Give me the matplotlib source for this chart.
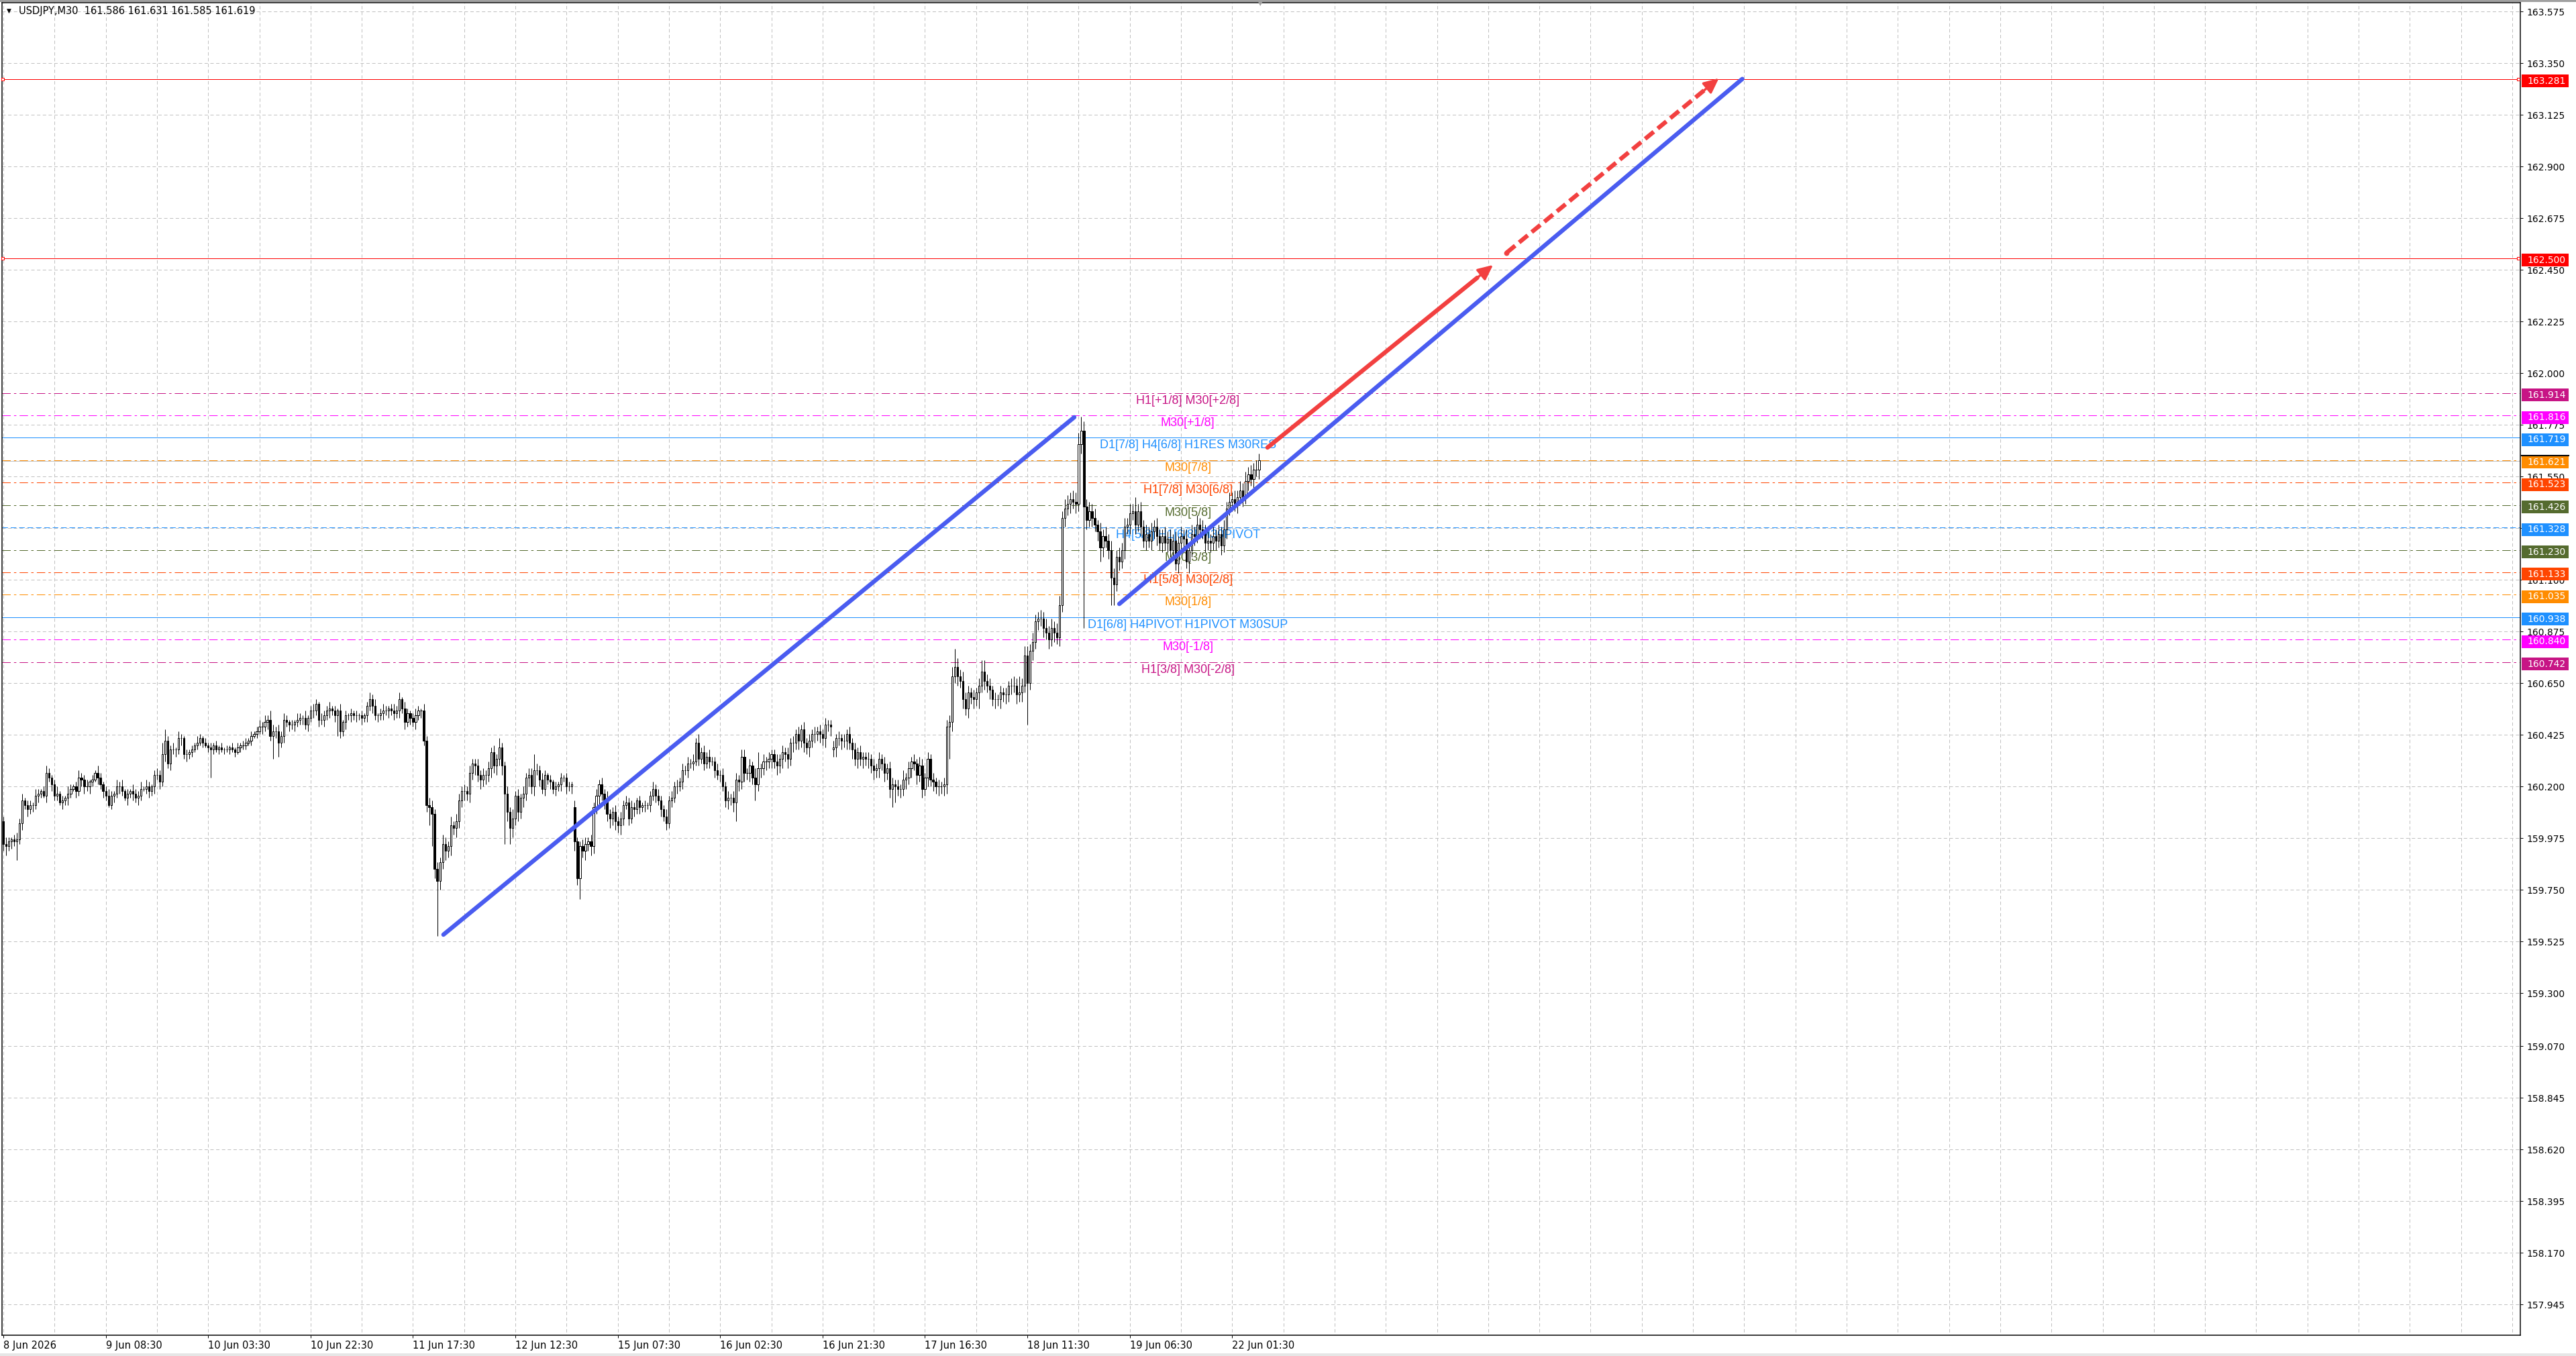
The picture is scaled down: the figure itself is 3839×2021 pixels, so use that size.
import numpy as np
import matplotlib
matplotlib.use("Agg")
import matplotlib.pyplot as plt
from matplotlib.patches import Rectangle
import matplotlib.transforms as mtransforms

plt.rcParams['lines.scale_dashes'] = False

W, H = 3839, 2021
BASE = 160.0

# USDJPY M30 closes, in 0.01 JPY above 160.000 (bar by bar)
close_pips = [
    -5, -6, -4, -3, -4, -3, 4, 14, 12, 10, 12, 12, 16, 17, 18, 16, 26, 24, 21, 16,
    17, 13, 14, 15, 17, 19, 20, 18, 24, 23, 20, 20, 22, 23, 26, 24, 21, 18, 16, 12,
    16, 17, 20, 20, 18, 15, 17, 18, 17, 15, 16, 19, 19, 20, 18, 20, 25, 25, 22, 34,
    40, 30, 36, 36, 36, 41, 41, 34, 34, 35, 36, 38, 39, 41, 39, 38, 37, 36, 38, 36,
    37, 36, 36, 36, 37, 36, 35, 37, 38, 38, 39, 40, 42, 43, 44, 46, 46, 48, 49, 42,
    44, 44, 39, 42, 49, 48, 47, 47, 48, 49, 50, 50, 47, 50, 53, 53, 56, 49, 49, 51,
    53, 54, 53, 51, 53, 44, 48, 51, 51, 52, 51, 51, 51, 50, 51, 55, 58, 55, 51, 51,
    52, 53, 53, 54, 53, 52, 53, 58,
    54, 48, 52, 50, 48, 51, 53, 53, 40, 12, 11, 8, -16, -21, -13, -5, -8, -6, 3, 2,
    5, 14, 18, 18, 17, 26, 30, 29, 25, 23, 25, 25, 28, 35, 29, 32, 37, 29, 17, 9,
    2, 6, 16, 9, 15, 17, 24, 25, 20, 27, 27, 23, 19, 25, 23, 22, 19, 20, 21, 24,
    24, 20, 20, 21, -4, -20, -6, -8, -5, -4, -6, 11, 16, 21, 17, 14, 8, 6, 9, 5,
    3, 6, 12, 13, 6, 11, 10, 14, 11, 12, 12, 12, 16, 19, 16, 14, 10, 7, 4, 14,
    15, 20, 20, 22, 27, 27, 30, 30, 31, 39, 32, 35, 30, 33, 31, 31, 27, 25, 25, 20,
    14, 15, 15, 13, 23, 22, 33, 26, 26, 29,
    24, 21, 28, 28, 31, 31, 32, 34, 31, 29, 32, 35, 34, 32, 39, 39, 43, 40, 45, 39,
    37, 40, 43, 43, 44, 43, 41, 47, 47, 46, 37, 41, 41, 40, 40, 43, 39, 36, 32, 35,
    32, 33, 32, 32, 29, 27, 28, 32, 30, 26, 28, 19, 21, 20, 19, 19, 23, 24, 28, 31,
    30, 25, 29, 19, 24, 32, 23, 22, 20, 20, 20, 21, 46, 48, 68, 72, 68, 66, 58, 54,
    61, 59, 58, 61, 64, 70, 66, 64, 62, 58, 58, 58, 61, 60, 60, 64, 64, 64, 60, 61,
    64, 77, 65, 79, 83, 92, 93, 93, 89, 87, 84, 89, 87, 85, 99,
    137, 141, 143, 145, 144, 143, 169, 175, 142, 136, 140, 137, 134, 131, 124, 129, 127, 123, 111, 108,
    120, 118, 123, 133, 134, 139, 140, 134, 140, 133, 127, 130, 127, 131, 133, 129, 126, 129, 126, 128,
    123, 127, 117, 126, 129, 128, 118, 123, 130, 129, 134, 132, 131, 126, 127, 126, 129, 127, 130, 125,
    132, 141, 144, 145, 143, 146, 149, 146, 153, 156, 154, 158, 158, 162,
]
first_open = 5
open_gaps = {212: 11, 308: 36}

# wick lengths above / below the body, 0.01 JPY per bar
wick_hi = ("2321232312" "2132123212" "3121321232" "2312132123" "2132312132"
           "2313212325" "4223132121" "2132121212" "1212121212" "2121232324"
           "3232321213" "2131232132" "2312131212" "1212123231" "2321232313"
           "2123213233" "2324324233" "2323223232" "3232422324" "2323233432"
           "3212121212" "2132233232" "3232422323" "2323212121" "2323223232"
           "3232323242" "3232232323" "2332332324" "3232322323" "2323232323"
           "2323232232" "3232323232" "2323232323" "3232423232" "4323232323"
           "3342434332" "3234533232" "3232333234" "4343343434" "3443443445"
           "5434342434" "3443434343" "5343434343" "3434343434" "3434343434"
           "3434343434" "3434343434")
wick_lo = ("3423232323" "2323213232" "2132321323" "3232132321" "2323213232"
           "3212323232" "3232323232" "2121212121" "2121212122" "2121213232"
           "2322323232" "2323232323" "2323232323" "2323232323" "2323232323"
           "2323232343" "4543434343" "3434343434" "3434343434" "3434343423"
           "2323232323" "2343434343" "3434343434" "3232323232" "3232323232"
           "3232323232" "3232323234" "3434343434" "3434343434" "3434343434"
           "3434343434" "3434343434" "3434343434" "3434343434" "3434343434"
           "4343434343" "4343434343" "4343434343" "4343434343" "4343434343"
           "4343434343" "4343434343" "4343434343" "4343434343" "4343434343"
           "4343434343" "4343434343")
# long wicks (absolute, 0.01 JPY above 160)
low_marks = {5: -12, 77: 24, 100: 32, 102: 33, 124: 42, 158: 3, 159: -6, 161: -45,
             186: -5, 188: -5, 213: -23, 214: -29, 272: 5, 279: 14, 330: 11, 331: 13,
             351: 32, 357: 52, 362: 54, 380: 47, 401: 89, 407: 118, 411: 99, 412: 99,
             440: 113}
high_marks = {60: 45, 147: 59, 197: 34, 212: 14, 257: 40, 280: 35, 353: 80, 363: 75,
              375: 68, 377: 68, 400: 181, 420: 146, 466: 163}

time_labels = ['8 Jun 2026', '9 Jun 08:30', '10 Jun 03:30', '10 Jun 22:30', '11 Jun 17:30',
               '12 Jun 12:30', '15 Jun 07:30', '16 Jun 02:30', '16 Jun 21:30', '17 Jun 16:30',
               '18 Jun 11:30', '19 Jun 06:30', '22 Jun 01:30']
label_bars = [0, 38, 76, 114, 152, 190, 228, 266, 304, 342, 380, 418, 456]

price_ticks = [163.575, 163.350, 163.125, 162.900, 162.675, 162.450, 162.225, 162.000,
               161.775, 161.550, 161.325, 161.100, 160.875, 160.650, 160.425, 160.200,
               159.975, 159.750, 159.525, 159.300, 159.070, 158.845, 158.620, 158.395,
               158.170, 157.945]

# horizontal levels: price, colour, style, caption
levels = [
    (163.281, '#FF0000', 'solid', ''),
    (162.500, '#FF0000', 'solid', ''),
    (161.914, '#C71585', 'dashdot', 'H1[+1/8] M30[+2/8]'),
    (161.816, '#FF00FF', 'dashdot', 'M30[+1/8]'),
    (161.719, '#1E90FF', 'solid', 'D1[7/8] H4[6/8] H1RES M30RES'),
    (161.621, '#FF8C00', 'dashdot', 'M30[7/8]'),
    (161.523, '#FF4500', 'dashdot', 'H1[7/8] M30[6/8]'),
    (161.426, '#556B2F', 'dashdot', 'M30[5/8]'),
    (161.328, '#1E90FF', 'dashed', 'H4[5/8] H1[6/8] M30PIVOT'),
    (161.230, '#556B2F', 'dashdot', 'M30[3/8]'),
    (161.133, '#FF4500', 'dashdot', 'H1[5/8] M30[2/8]'),
    (161.035, '#FF8C00', 'dashdot', 'M30[1/8]'),
    (160.938, '#1E90FF', 'solid', 'D1[6/8] H4PIVOT H1PIVOT M30SUP'),
    (160.840, '#FF00FF', 'dashdot', 'M30[-1/8]'),
    (160.742, '#C71585', 'dashdot', 'H1[3/8] M30[-2/8]'),
]
bid = 161.619

# trend lines (bar index, price)
blue_lines = [((163.3, 159.555), (397.4, 161.808)),
              ((414.1, 160.995), (645.3, 163.281))]
red_solid = ((469.1, 161.676), (552.8, 162.471))
red_dash = ((557.8, 162.524), (636.6, 163.284))

BLUE = '#4A5CF0'
RED = '#F24040'
GRID = '#C0C0C0'
PX = 0.72  # one pixel in points

styles = {'solid': '-', 'dashed': (0, (6, 3)), 'dashdot': (0, (9, 3.5, 2.5, 3.5))}

Y_TOP, Y_BOT = 4, 1990  # plot frame, pixel rows
fig = plt.figure(figsize=(W / 100, H / 100), dpi=100)
fig.patch.set_facecolor('white')
ax = fig.add_axes([3 / W, (H - Y_BOT) / H, 3753 / W, (Y_BOT - Y_TOP) / H])
ax.set_xlim(-0.5, 934.0)
ax.set_ylim(157.811, 163.613)
ppu = (Y_BOT - Y_TOP) / (163.613 - 157.811)  # pixels per JPY

# grid
ax.hlines(price_ticks, -0.5, 934, colors=GRID, lw=PX, linestyles=[(0, (3.6, 2.6))], zorder=1)
ax.vlines(np.arange(0, 935, 19), 157.8, 163.7, colors=GRID, lw=PX, linestyles=[(0, (3.6, 2.6))], zorder=1)

# candles
n = len(close_pips)
x = np.arange(n)
c = np.array(close_pips, dtype=float)
o = np.r_[first_open, c[:-1]]
for i, v in open_gaps.items():
    o[i] = v
hi = np.maximum(o, c) + np.array([int(ch) for ch in wick_hi[:n]])
lo = np.minimum(o, c) - np.array([int(ch) for ch in wick_lo[:n]])
for i, v in high_marks.items():
    hi[i] = max(hi[i], v)
for i, v in low_marks.items():
    lo[i] = min(lo[i], v)
c, o, hi, lo = BASE + c / 100, BASE + o / 100, BASE + hi / 100, BASE + lo / 100

bull = c >= o
ax.vlines(x, lo, hi, colors='black', lw=PX, zorder=4)
ax.bar(x[bull], (c - o)[bull], bottom=o[bull], width=0.55, facecolor='white',
       edgecolor='black', linewidth=PX, zorder=5)
ax.bar(x[~bull], (c - o)[~bull], bottom=o[~bull], width=0.55, facecolor='black',
       edgecolor='black', linewidth=PX, zorder=5)

# levels
ax.axhline(bid, color=GRID, lw=PX, zorder=2)
for price, col, st, txt in levels:
    ax.axhline(price, color=col, lw=PX, linestyle=styles[st], zorder=2)
    if txt:
        ax.text(439.5, price - 3 / ppu, txt, color=col, fontsize=13, family='Liberation Sans',
                ha='center', va='top', zorder=3)
for price in (163.281, 162.500):
    ax.plot([-0.2, 933.3], [price, price], 's', ms=3, mfc='white', mec='red', mew=PX,
            clip_on=False, zorder=6)

# trend lines and arrows
for (x1, y1), (x2, y2) in blue_lines:
    ax.plot([x1, x2], [y1, y2], color=BLUE, lw=4.6, solid_capstyle='round', zorder=7)


def arrow(seg, dashed):
    (x1, y1), (x2, y2) = seg
    f = 0.93
    xm, ym = x1 + (x2 - x1) * f, y1 + (y2 - y1) * f
    if dashed:
        ax.plot([x1, xm], [y1, ym], color=RED, lw=4.6, linestyle=(0, (12, 5.5)),
                dash_capstyle='butt', zorder=7)
        ax.plot([x1], [y1], 'o', color=RED, ms=4.6, zorder=7)
    else:
        ax.plot([x1, xm], [y1, ym], color=RED, lw=4.6, solid_capstyle='round', zorder=7)
    ax.annotate('', xy=(x2, y2), xytext=(xm, ym),
                arrowprops=dict(arrowstyle='-|>,head_length=0.9,head_width=0.42', color=RED,
                                lw=2.5, shrinkA=0, shrinkB=0, mutation_scale=15), zorder=7)


arrow(red_solid, False)
arrow(red_dash, True)

# axes styling
for sp in ax.spines.values():
    sp.set_color('black')
    sp.set_linewidth(PX * 1.5)
ax.yaxis.tick_right()
ax.set_yticks(price_ticks)
ax.set_yticklabels([f'{p:.3f}' for p in price_ticks])
ax.tick_params(axis='y', right=True, left=False, length=3, width=PX, pad=4,
               labelsize=10, labelcolor='black')
ax.set_xticks(label_bars)
ax.set_xticklabels(time_labels)
for lb in ax.get_xticklabels():
    lb.set_ha('left')
ax.tick_params(axis='x', length=3, width=PX, pad=2.5, labelsize=10.5)

# price boxes on the right axis
blend = mtransforms.blended_transform_factory(ax.transAxes, ax.transData)
bw = 70 / 3753
bh = 19 / ppu
for price, col, st, txt in levels:
    yc = price - 3 / ppu
    ax.add_patch(Rectangle((1.0006, yc - bh / 2), bw, bh, transform=blend, facecolor=col,
                           edgecolor='none', clip_on=False, zorder=10))
    ax.text(1.0029, yc, f'{price:.3f}', transform=blend, color='white', fontsize=10,
            va='center', ha='left', clip_on=False, zorder=11)
ax.plot([1.0006, 1.0006 + bw], [161.621 - 3 / ppu + bh / 2] * 2, transform=blend,
        color='black', lw=1.5, clip_on=False, zorder=12)

# window decorations
fig.add_artist(Rectangle((0, 1 - 3 / H), 1, 3 / H, transform=fig.transFigure,
                         facecolor='#A0A0A0', edgecolor='none'))
fig.add_artist(Rectangle((0, 0), 1, 4 / H, transform=fig.transFigure,
                         facecolor='#E6E6E6', edgecolor='none'))
fig.text(1878 / W, 1 - 6 / H, '\u25BC', fontsize=6, color='#A0A0A0', ha='center', va='center')
fig.text(10 / W, 1 - 16 / H, '\u25BC', fontsize=6.5, color='black', va='center')
fig.text(28 / W, 1 - 16 / H, 'USDJPY,M30  161.586 161.631 161.585 161.619',
         fontsize=10.5, color='black', va='center')

fig.savefig('out.png', dpi=100, facecolor='white')
